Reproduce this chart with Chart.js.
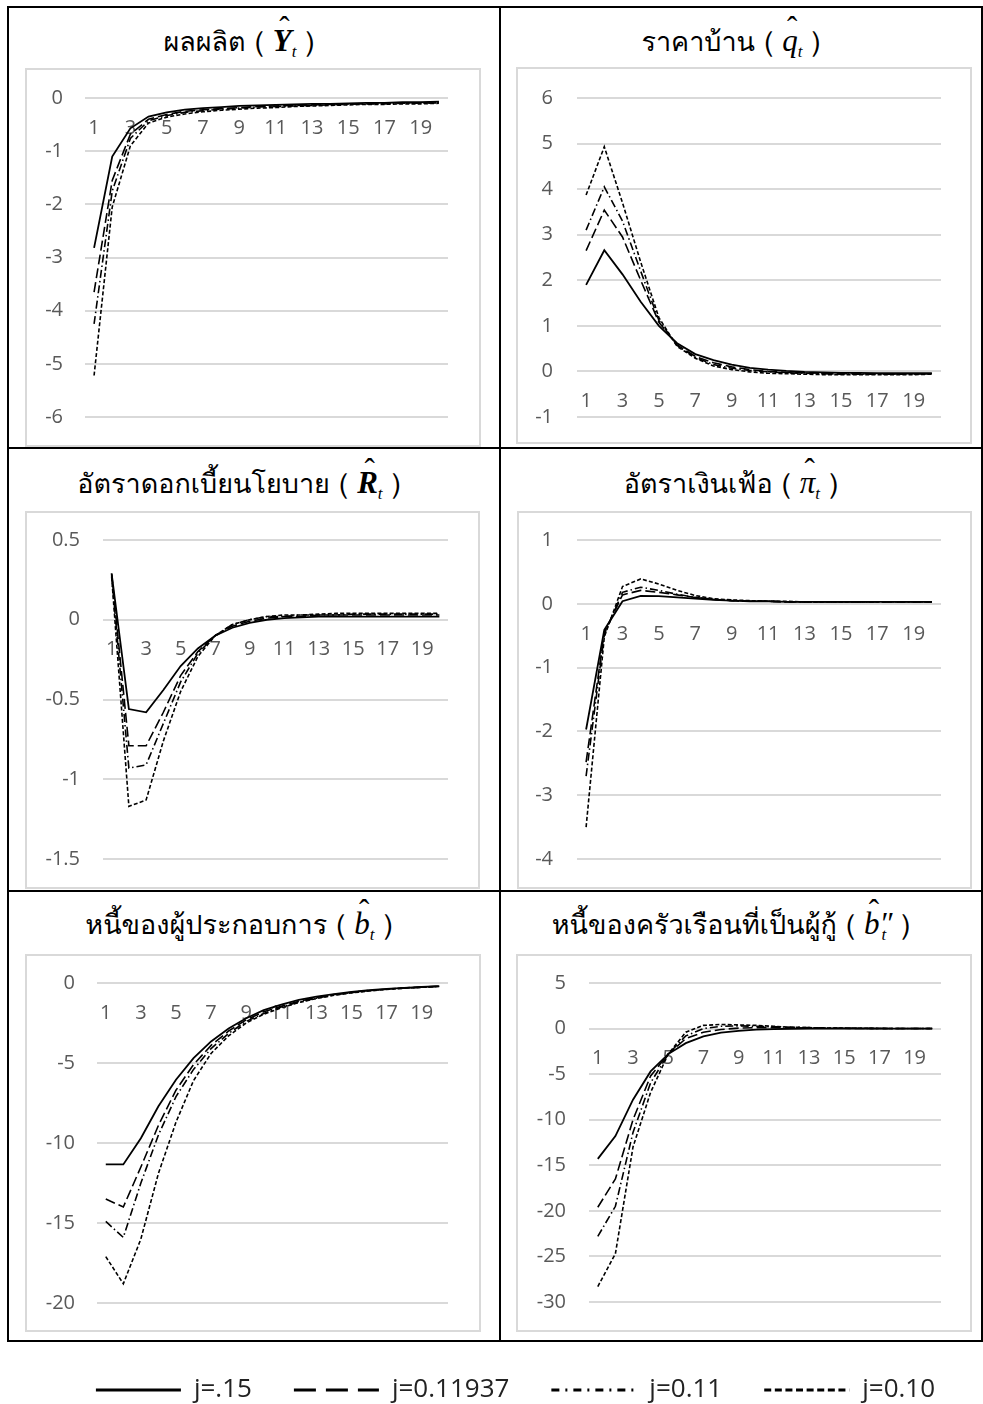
<!DOCTYPE html>
<html lang="th"><head><meta charset="utf-8">
<script src="https://cdn.jsdelivr.net/npm/chart.js@4.4.1/dist/chart.umd.min.js"></script>
<style>
html,body{margin:0;padding:0;background:#fff;}
body{width:983px;height:1404px;position:relative;overflow:hidden;}
.frame{position:absolute;left:7px;top:6px;width:976px;height:1336px;box-sizing:border-box;border:2px solid #000;}
.ln{position:absolute;background:#000;}
.box{position:absolute;box-sizing:border-box;border:2px solid #d9d9d9;}
canvas{position:absolute;}
.ttl{position:absolute;width:492px;text-align:center;white-space:nowrap;font-family:"Loma","Noto Sans Thai Looped","Noto Sans Thai",sans-serif;font-size:27px;color:#000;line-height:40px;}
.m{font-family:"Liberation Serif","Times New Roman",serif;font-style:italic;font-size:31px;}
.m sub{font-size:17px;vertical-align:-6px;font-style:italic;}
.acc{position:relative;display:inline-block;}
.hat{position:absolute;left:0.14em;right:0;top:-0.42em;text-align:center;font-style:normal;font-weight:normal;}
</style></head><body>
<div class="frame"></div>
<div class="ln" style="left:499px;top:6px;width:2px;height:1336px"></div>
<div class="ln" style="left:7px;top:447px;width:976px;height:2px"></div>
<div class="ln" style="left:7px;top:890px;width:976px;height:2px"></div>

<div class="box" style="left:25px;top:68px;width:456px;height:379px"></div>
<div class="box" style="left:516px;top:67px;width:456px;height:377px"></div>
<div class="box" style="left:25px;top:511px;width:455px;height:378px"></div>
<div class="box" style="left:517px;top:511px;width:455px;height:378px"></div>
<div class="box" style="left:25px;top:954px;width:456px;height:378px"></div>
<div class="box" style="left:516px;top:954px;width:456px;height:378px"></div>

<div class="ttl" style="left:-7px;top:21px">ผลผลิต ( <span class="m"><span class="acc"><b>Y</b><span class="hat">ˆ</span></span><sub>t</sub></span> )</div>
<div class="ttl" style="left:485px;top:21px">ราคาบ้าน ( <span class="m"><span class="acc">q<span class="hat">ˆ</span></span><sub>t</sub></span> )</div>
<div class="ttl" style="left:-7px;top:463px">อัตราดอกเบี้ยนโยบาย ( <span class="m"><span class="acc"><b>R</b><span class="hat">ˆ</span></span><sub>t</sub></span> )</div>
<div class="ttl" style="left:485px;top:463px">อัตราเงินเฟ้อ ( <span class="m"><span class="acc">π<span class="hat">ˆ</span></span><sub>t</sub></span> )</div>
<div class="ttl" style="left:-7px;top:904px">หนี้ของผู้ประกอบการ ( <span class="m"><span class="acc">b<span class="hat">ˆ</span></span><sub>t</sub></span> )</div>
<div class="ttl" style="left:485px;top:904px">หนี้ของครัวเรือนที่เป็นผู้กู้ ( <span class="m"><span class="acc">b<span class="hat">ˆ</span></span>″<sub style="margin-left:-11px;margin-right:6px">t</sub></span> )</div>

<canvas id="c1"></canvas><canvas id="c2"></canvas><canvas id="c3"></canvas>
<canvas id="c4"></canvas><canvas id="c5"></canvas><canvas id="c6"></canvas>
<canvas id="leg"></canvas>

<script>
// ---------- data ----------
const periods = ['1','2','3','4','5','6','7','8','9','10','11','12','13','14','15','16','17','18','19','20'];
const seriesLabels = ['j=.15','j=0.11937','j=0.11','j=0.10'];

// Output (Y hat)
const Y_j15    = [-2.82,-1.10,-0.57,-0.35,-0.27,-0.22,-0.19,-0.17,-0.15,-0.14,-0.13,-0.12,-0.11,-0.11,-0.10,-0.09,-0.09,-0.08,-0.08,-0.07];
const Y_j11937 = [-3.65,-1.55,-0.68,-0.40,-0.31,-0.25,-0.22,-0.20,-0.18,-0.16,-0.15,-0.14,-0.13,-0.12,-0.11,-0.11,-0.10,-0.09,-0.09,-0.08];
const Y_j11    = [-4.25,-1.75,-0.76,-0.43,-0.33,-0.27,-0.24,-0.21,-0.19,-0.17,-0.16,-0.15,-0.14,-0.13,-0.12,-0.11,-0.11,-0.10,-0.10,-0.09];
const Y_j10    = [-5.22,-2.05,-0.90,-0.47,-0.36,-0.30,-0.26,-0.23,-0.21,-0.19,-0.18,-0.16,-0.15,-0.14,-0.13,-0.12,-0.12,-0.11,-0.11,-0.10];

// House price (q hat)
const q_j15    = [1.90,2.66,2.13,1.53,1.00,0.62,0.38,0.25,0.15,0.08,0.04,0.01,-0.01,-0.02,-0.03,-0.03,-0.04,-0.04,-0.04,-0.04];
const q_j11937 = [2.65,3.54,2.95,2.00,1.08,0.58,0.33,0.19,0.10,0.04,0.00,-0.02,-0.03,-0.04,-0.05,-0.05,-0.05,-0.05,-0.05,-0.05];
const q_j11    = [3.10,4.05,3.30,2.20,1.12,0.57,0.31,0.15,0.07,0.02,-0.01,-0.03,-0.04,-0.05,-0.06,-0.06,-0.06,-0.06,-0.06,-0.05];
const q_j10    = [3.87,4.93,3.70,2.40,1.18,0.55,0.29,0.12,0.04,-0.01,-0.04,-0.05,-0.06,-0.07,-0.07,-0.07,-0.07,-0.07,-0.07,-0.06];

// Policy rate (R hat)
const R_j15    = [0.29,-0.56,-0.58,-0.44,-0.29,-0.18,-0.10,-0.05,-0.02,0.00,0.01,0.015,0.02,0.02,0.02,0.02,0.02,0.02,0.02,0.02];
const R_j11937 = [0.29,-0.79,-0.79,-0.58,-0.35,-0.20,-0.10,-0.04,-0.01,0.01,0.02,0.02,0.03,0.03,0.03,0.03,0.03,0.03,0.03,0.03];
const R_j11    = [0.28,-0.93,-0.91,-0.65,-0.39,-0.21,-0.10,-0.03,0.00,0.02,0.02,0.03,0.03,0.03,0.035,0.035,0.035,0.035,0.035,0.035];
const R_j10    = [0.27,-1.17,-1.13,-0.76,-0.45,-0.23,-0.10,-0.03,0.00,0.02,0.03,0.03,0.035,0.04,0.04,0.04,0.04,0.04,0.04,0.04];

// Inflation (pi hat)
const pi_j15    = [-1.97,-0.41,0.04,0.125,0.12,0.10,0.08,0.06,0.05,0.04,0.04,0.03,0.03,0.03,0.03,0.03,0.03,0.03,0.03,0.03];
const pi_j11937 = [-2.48,-0.45,0.14,0.21,0.18,0.14,0.10,0.07,0.05,0.04,0.04,0.03,0.03,0.03,0.03,0.03,0.03,0.03,0.03,0.03];
const pi_j11    = [-2.70,-0.48,0.18,0.26,0.21,0.15,0.10,0.07,0.05,0.04,0.04,0.03,0.03,0.03,0.03,0.03,0.03,0.03,0.03,0.03];
const pi_j10    = [-3.50,-0.52,0.27,0.39,0.31,0.21,0.13,0.08,0.06,0.05,0.04,0.04,0.03,0.03,0.03,0.03,0.03,0.03,0.03,0.03];

// Entrepreneur debt (b hat)
const b_j15    = [-11.34,-11.34,-9.7,-7.7,-6.05,-4.7,-3.65,-2.85,-2.2,-1.7,-1.35,-1.05,-0.85,-0.7,-0.55,-0.45,-0.37,-0.3,-0.25,-0.2];
const b_j11937 = [-13.5,-14.0,-11.5,-8.9,-6.7,-5.1,-3.9,-3.0,-2.3,-1.8,-1.45,-1.15,-0.9,-0.72,-0.58,-0.47,-0.38,-0.31,-0.25,-0.2];
const b_j11    = [-14.9,-15.9,-12.5,-9.5,-7.1,-5.4,-4.1,-3.15,-2.4,-1.9,-1.5,-1.2,-0.95,-0.75,-0.6,-0.48,-0.39,-0.32,-0.26,-0.21];
const b_j10    = [-17.1,-18.8,-16.0,-11.9,-8.7,-6.1,-4.4,-3.3,-2.5,-1.95,-1.55,-1.22,-0.97,-0.77,-0.62,-0.5,-0.4,-0.33,-0.27,-0.22];

// Borrower household debt (b'' hat)
const bh_j15    = [-14.3,-11.8,-7.8,-4.7,-2.8,-1.6,-0.85,-0.45,-0.25,-0.12,-0.05,-0.02,-0.01,0,0,0,0,0,0,0];
const bh_j11937 = [-19.6,-16.5,-10.0,-5.2,-2.8,-1.1,-0.4,-0.1,0.05,0.1,0.1,0.08,0.06,0.04,0.03,0.02,0.01,0.01,0,0];
const bh_j11    = [-22.8,-19.5,-11.4,-5.95,-2.8,-0.8,0.0,0.25,0.3,0.25,0.2,0.15,0.1,0.07,0.05,0.03,0.02,0.01,0,0];
const bh_j10    = [-28.3,-24.7,-13.0,-7.0,-2.8,-0.4,0.35,0.45,0.4,0.35,0.25,0.15,0.1,0.07,0.05,0.03,0.02,0.01,0,0];

// y-axis tick ranges
const yRanges = [
  {min:-6,  max:0,   step:1},
  {min:-1,  max:6,   step:1},
  {min:-1.5,max:0.5, step:0.5},
  {min:-4,  max:1,   step:1},
  {min:-20, max:0,   step:5},
  {min:-30, max:5,   step:5}
];

// ---------- rendering ----------
const panelSeries = [
  [Y_j15, Y_j11937, Y_j11, Y_j10],
  [q_j15, q_j11937, q_j11, q_j10],
  [R_j15, R_j11937, R_j11, R_j10],
  [pi_j15, pi_j11937, pi_j11, pi_j10],
  [b_j15, b_j11937, b_j11, b_j10],
  [bh_j15, bh_j11937, bh_j11, bh_j10]
];
const DASH = [[], [10,4], [8,3,1.5,3], [4,2.2]];
const LEG_DASH = [[], [22,10], [8,6,2,6], [7,3.6]];
const layoutSpec = [
  {id:'c1', L:25, T:68,  W:456, H:379, PL:85,  PR:448, PT:98,  PB:417,  LR:63},
  {id:'c2', L:516,T:67,  W:456, H:377, PL:577, PR:941, PT:98,  PB:417,  LR:553},
  {id:'c3', L:25, T:511, W:455, H:378, PL:103, PR:448, PT:540, PB:859,  LR:80},
  {id:'c4', L:517,T:511, W:455, H:378, PL:577, PR:941, PT:540, PB:859,  LR:553},
  {id:'c5', L:25, T:954, W:456, H:378, PL:97,  PR:448, PT:983, PB:1303, LR:75},
  {id:'c6', L:516,T:954, W:456, H:378, PL:589, PR:941, PT:983, PB:1302, LR:566}
];
const tickFont = {family:'"Open Sans", "Noto Sans", sans-serif', size:20};
const tickColor = '#595959';

layoutSpec.forEach((s, k) => {
  const cv = document.getElementById(s.id);
  cv.width = s.W; cv.height = s.H;
  cv.style.left = s.L + 'px'; cv.style.top = s.T + 'px';
  cv.style.width = s.W + 'px'; cv.style.height = s.H + 'px';
  const yw = s.PL - s.L;
  const r = yRanges[k];
  new Chart(cv, {
    type: 'line',
    data: {
      labels: periods,
      datasets: panelSeries[k].map((d, i) => ({
        label: seriesLabels[i], data: d,
        borderColor: '#000', backgroundColor: '#000',
        borderWidth: i === 0 ? 1.8 : 1.6, borderDash: DASH[i],
        pointRadius: 0, tension: 0, fill: false
      }))
    },
    options: {
      responsive: false, animation: false, devicePixelRatio: 1,
      layout: {padding: {left: 0, top: s.PT - s.T, right: s.L + s.W - s.PR, bottom: s.T + s.H - s.PB}},
      plugins: {legend: {display: false}, tooltip: {enabled: false}},
      scales: {
        x: {
          type: 'category', position: {y: 0}, offset: true,
          grid: {display: false, drawTicks: false}, border: {display: false},
          ticks: {autoSkip: false, maxRotation: 0, minRotation: 0, padding: 18, color: tickColor, font: tickFont,
                  callback: (v, i) => (i % 2 === 0 ? periods[i] : '')}
        },
        y: {
          min: r.min, max: r.max,
          ticks: {stepSize: r.step, padding: 0, color: tickColor, font: tickFont,
                  callback: (v) => String(Math.round(v * 100) / 100)},
          grid: {color: '#d9d9d9', lineWidth: 2, drawTicks: true, tickLength: s.PL - s.LR, tickColor: 'rgba(0,0,0,0)'},
          border: {display: false},
          afterFit: (sc) => { sc.width = yw; }
        }
      }
    }
  });
});

// legend (separate chart holding only the legend)
const lg = document.getElementById('leg');
lg.width = 953; lg.height = 240;
lg.style.left = '39px'; lg.style.top = '1335px';
lg.style.width = '953px'; lg.style.height = '240px';
new Chart(lg, {
  type: 'line',
  data: {labels: [], datasets: seriesLabels.map((l, i) => ({label: l, data: [], borderColor: '#000', borderWidth: 3, borderDash: LEG_DASH[i]}))},
  options: {
    responsive: false, animation: false, devicePixelRatio: 1,
    scales: {x: {display: false}, y: {display: false}},
    plugins: {
      tooltip: {enabled: false},
      legend: {display: true, position: 'top', align: 'center',
        labels: {usePointStyle: true, pointStyle: 'line', pointStyleWidth: 85, padding: 42, color: '#222',
                 font: {family: '"Open Sans", "Noto Sans", sans-serif', size: 26},
                 generateLabels: (chart) => chart.data.datasets.map((ds, i) => ({
                   text: ds.label, fillStyle: '#000', strokeStyle: '#000', lineWidth: 3,
                   lineDash: LEG_DASH[i], lineDashOffset: 0, lineCap: 'butt',
                   pointStyle: 'line', hidden: false, datasetIndex: i, fontColor: '#222'
                 }))}}
    }
  }
});
</script>
</body></html>
